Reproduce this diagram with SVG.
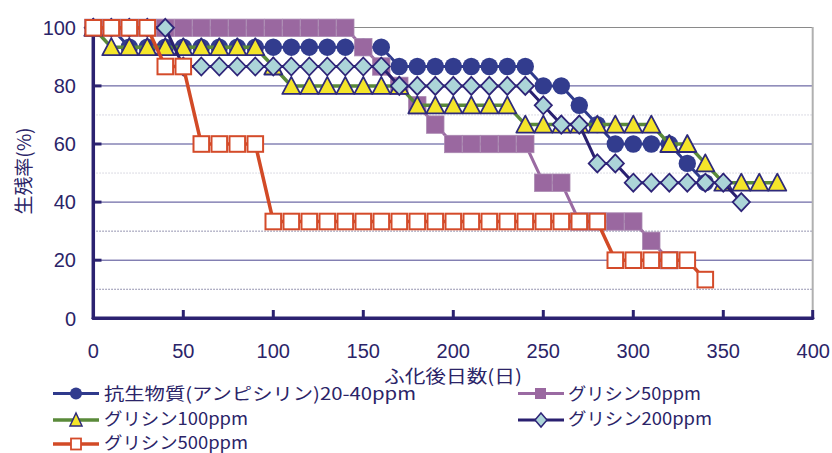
<svg xmlns="http://www.w3.org/2000/svg" xmlns:xlink="http://www.w3.org/1999/xlink" width="832" height="453" viewBox="0 0 832 453">
<style>
.txt{font-family:"Liberation Sans","Noto Sans CJK JP",sans-serif;fill:#2b2468}
.jp{font-family:"Noto Sans CJK JP","Liberation Sans",sans-serif;fill:#2b2468}
.tick{font-size:20px}
.grid{stroke:#4a4690;stroke-width:1;fill:none}
.dotd{stroke:#77759a;stroke-width:1;stroke-dasharray:1.5 1.5;fill:none}
.dotl{stroke:#cfcfda;stroke-width:1;stroke-dasharray:1.5 1.5;fill:none}
.axis{stroke:#2b2270;stroke-width:3.5;fill:none;stroke-linecap:round}
.s1{stroke:#2f3a8c;stroke-width:3;fill:none}
.s2{stroke:#9a6aa2;stroke-width:3;fill:none}
.s3{stroke:#5a8a3a;stroke-width:3.5;fill:none}
.s4{stroke:#2a2070;stroke-width:3;fill:none}
.s5{stroke:#d24a26;stroke-width:3.5;fill:none}
</style>
<defs>
<circle id="mc" r="8.7" fill="#323c8e"/>
<rect id="mp" x="-8.7" y="-8.7" width="17.4" height="17.4" fill="#9a68a0" stroke="#a987b0" stroke-width="0.8"/>
<polygon id="mt" points="0,-9 9,8 -9,8" fill="#f4e52a" stroke="#2e2a7a" stroke-width="1.8" stroke-linejoin="round"/>
<polygon id="md" points="0,-9 8.6,0 0,9 -8.6,0" fill="#acd5d8" stroke="#2e2478" stroke-width="1.8"/>
<rect id="mr" x="-7.8" y="-7.8" width="15.6" height="15.6" fill="#ffffff" stroke="#d44b2a" stroke-width="2"/>
</defs>
<rect x="0" y="0" width="832" height="453" fill="#ffffff"/>

<g id="gridlines">
<line class="dotd" x1="93.3" y1="289.25" x2="812.7" y2="289.25"/>
<line class="dotd" x1="93.3" y1="231.15" x2="812.7" y2="231.15"/>
<line class="dotl" x1="93.3" y1="173.05" x2="812.7" y2="173.05"/>
<line class="dotl" x1="93.3" y1="114.95" x2="812.7" y2="114.95"/>
<line class="grid" x1="93.3" y1="260.2" x2="812.7" y2="260.2"/>
<line class="grid" x1="93.3" y1="202.1" x2="812.7" y2="202.1"/>
<line class="grid" x1="93.3" y1="144" x2="812.7" y2="144"/>
<line class="grid" x1="93.3" y1="85.9" x2="812.7" y2="85.9"/>
<line x1="93.3" y1="27.5" x2="812.7" y2="27.5" stroke="#8a8a8a" stroke-width="1.2"/>
<line x1="812.7" y1="27" x2="812.7" y2="318.3" stroke="#b0b0b0" stroke-width="2"/>
</g>

<g id="axes">
<line class="axis" x1="93.3" y1="27.8" x2="93.3" y2="318.3"/>
<line class="axis" x1="93.3" y1="318.3" x2="812.7" y2="318.3"/>
<g stroke="#2b2270" stroke-width="3">
<line x1="93.3" y1="260.2" x2="101.5" y2="260.2"/>
<line x1="93.3" y1="202.1" x2="101.5" y2="202.1"/>
<line x1="93.3" y1="144" x2="101.5" y2="144"/>
<line x1="93.3" y1="85.9" x2="101.5" y2="85.9"/>
<line x1="183.3" y1="318.3" x2="183.3" y2="310"/>
<line x1="273.3" y1="318.3" x2="273.3" y2="310"/>
<line x1="363.3" y1="318.3" x2="363.3" y2="310"/>
<line x1="453.3" y1="318.3" x2="453.3" y2="310"/>
<line x1="543.3" y1="318.3" x2="543.3" y2="310"/>
<line x1="633.3" y1="318.3" x2="633.3" y2="310"/>
<line x1="723.3" y1="318.3" x2="723.3" y2="310"/>
<line x1="812.7" y1="318.3" x2="812.7" y2="310"/>
</g>
<g class="txt tick" text-anchor="end">
<text x="76" y="325.5">0</text>
<text x="76" y="267.4">20</text>
<text x="76" y="209.3">40</text>
<text x="76" y="151.2">60</text>
<text x="76" y="93.1">80</text>
<text x="76" y="35">100</text>
</g>
<g class="txt tick" text-anchor="middle">
<text x="93.3" y="358">0</text>
<text x="183.3" y="358">50</text>
<text x="273.3" y="358">100</text>
<text x="363.3" y="358">150</text>
<text x="453.3" y="358">200</text>
<text x="543.3" y="358">250</text>
<text x="633.3" y="358">300</text>
<text x="723.3" y="358">350</text>
<text x="813.3" y="358">400</text>
</g>
<text class="jp" font-size="19" text-anchor="middle" transform="translate(31,171) rotate(-90)" textLength="87" lengthAdjust="spacingAndGlyphs">生残率(%)</text>
<text class="jp" font-size="18" x="384" y="383" textLength="138" lengthAdjust="spacingAndGlyphs">ふ化後日数(日)</text>
</g>

<g id="series-antibiotic">
<polyline class="s1" points="93.3,27.8 111.3,27.8 129.3,47.2 381.3,47.2 399.3,66.5 525.3,66.5 543.3,85.9 561.3,85.9 579.3,105.3 597.3,124.6 615.3,144 669.3,144 687.3,163.4 705.3,182.7"/>
<use xlink:href="#mc" x="93.3" y="27.8"/><use xlink:href="#mc" x="111.3" y="27.8"/>
<use xlink:href="#mc" x="129.3" y="47.2"/><use xlink:href="#mc" x="147.3" y="47.2"/><use xlink:href="#mc" x="165.3" y="47.2"/><use xlink:href="#mc" x="183.3" y="47.2"/><use xlink:href="#mc" x="201.3" y="47.2"/><use xlink:href="#mc" x="219.3" y="47.2"/><use xlink:href="#mc" x="237.3" y="47.2"/><use xlink:href="#mc" x="255.3" y="47.2"/><use xlink:href="#mc" x="273.3" y="47.2"/><use xlink:href="#mc" x="291.3" y="47.2"/><use xlink:href="#mc" x="309.3" y="47.2"/><use xlink:href="#mc" x="327.3" y="47.2"/><use xlink:href="#mc" x="345.3" y="47.2"/><use xlink:href="#mc" x="363.3" y="47.2"/><use xlink:href="#mc" x="381.3" y="47.2"/>
<use xlink:href="#mc" x="399.3" y="66.5"/><use xlink:href="#mc" x="417.3" y="66.5"/><use xlink:href="#mc" x="435.3" y="66.5"/><use xlink:href="#mc" x="453.3" y="66.5"/><use xlink:href="#mc" x="471.3" y="66.5"/><use xlink:href="#mc" x="489.3" y="66.5"/><use xlink:href="#mc" x="507.3" y="66.5"/><use xlink:href="#mc" x="525.3" y="66.5"/>
<use xlink:href="#mc" x="543.3" y="85.9"/><use xlink:href="#mc" x="561.3" y="85.9"/>
<use xlink:href="#mc" x="579.3" y="105.3"/><use xlink:href="#mc" x="597.3" y="124.6"/>
<use xlink:href="#mc" x="615.3" y="144"/><use xlink:href="#mc" x="633.3" y="144"/><use xlink:href="#mc" x="651.3" y="144"/><use xlink:href="#mc" x="669.3" y="144"/>
<use xlink:href="#mc" x="687.3" y="163.4"/><use xlink:href="#mc" x="705.3" y="182.7"/>
</g>

<g id="series-glycine50">
<polyline class="s2" points="93.3,27.8 345.3,27.8 363.3,47.2 381.3,66.5 399.3,85.9 417.3,105.3 435.3,124.6 453.3,144 525.3,144 543.3,182.7 561.3,182.7 579.3,221.5 633.3,221.5 651.3,240.8 669.3,260.2"/>
<use xlink:href="#mp" x="93.3" y="27.8"/><use xlink:href="#mp" x="111.3" y="27.8"/><use xlink:href="#mp" x="129.3" y="27.8"/><use xlink:href="#mp" x="147.3" y="27.8"/><use xlink:href="#mp" x="165.3" y="27.8"/><use xlink:href="#mp" x="183.3" y="27.8"/><use xlink:href="#mp" x="201.3" y="27.8"/><use xlink:href="#mp" x="219.3" y="27.8"/><use xlink:href="#mp" x="237.3" y="27.8"/><use xlink:href="#mp" x="255.3" y="27.8"/><use xlink:href="#mp" x="273.3" y="27.8"/><use xlink:href="#mp" x="291.3" y="27.8"/><use xlink:href="#mp" x="309.3" y="27.8"/><use xlink:href="#mp" x="327.3" y="27.8"/><use xlink:href="#mp" x="345.3" y="27.8"/>
<use xlink:href="#mp" x="363.3" y="47.2"/><use xlink:href="#mp" x="381.3" y="66.5"/><use xlink:href="#mp" x="399.3" y="85.9"/><use xlink:href="#mp" x="417.3" y="105.3"/><use xlink:href="#mp" x="435.3" y="124.6"/>
<use xlink:href="#mp" x="453.3" y="144"/><use xlink:href="#mp" x="471.3" y="144"/><use xlink:href="#mp" x="489.3" y="144"/><use xlink:href="#mp" x="507.3" y="144"/><use xlink:href="#mp" x="525.3" y="144"/>
<use xlink:href="#mp" x="543.3" y="182.7"/><use xlink:href="#mp" x="561.3" y="182.7"/>
<use xlink:href="#mp" x="579.3" y="221.5"/><use xlink:href="#mp" x="597.3" y="221.5"/><use xlink:href="#mp" x="615.3" y="221.5"/><use xlink:href="#mp" x="633.3" y="221.5"/>
<use xlink:href="#mp" x="651.3" y="240.8"/><use xlink:href="#mp" x="669.3" y="260.2"/>
</g>

<g id="series-glycine100">
<polyline class="s3" points="93.3,27.8 111.3,47.2 255.3,47.2 273.3,66.5 291.3,85.9 399.3,85.9 417.3,105.3 507.3,105.3 525.3,124.6 651.3,124.6 669.3,144 687.3,144 705.3,163.4 723.3,182.7 777.3,182.7"/>
<use xlink:href="#mt" x="93.3" y="27.8"/>
<use xlink:href="#mt" x="111.3" y="47.2"/><use xlink:href="#mt" x="129.3" y="47.2"/><use xlink:href="#mt" x="147.3" y="47.2"/><use xlink:href="#mt" x="165.3" y="47.2"/><use xlink:href="#mt" x="183.3" y="47.2"/><use xlink:href="#mt" x="201.3" y="47.2"/><use xlink:href="#mt" x="219.3" y="47.2"/><use xlink:href="#mt" x="237.3" y="47.2"/><use xlink:href="#mt" x="255.3" y="47.2"/>
<use xlink:href="#mt" x="273.3" y="66.5"/>
<use xlink:href="#mt" x="291.3" y="85.9"/><use xlink:href="#mt" x="309.3" y="85.9"/><use xlink:href="#mt" x="327.3" y="85.9"/><use xlink:href="#mt" x="345.3" y="85.9"/><use xlink:href="#mt" x="363.3" y="85.9"/><use xlink:href="#mt" x="381.3" y="85.9"/><use xlink:href="#mt" x="399.3" y="85.9"/>
<use xlink:href="#mt" x="417.3" y="105.3"/><use xlink:href="#mt" x="435.3" y="105.3"/><use xlink:href="#mt" x="453.3" y="105.3"/><use xlink:href="#mt" x="471.3" y="105.3"/><use xlink:href="#mt" x="489.3" y="105.3"/><use xlink:href="#mt" x="507.3" y="105.3"/>
<use xlink:href="#mt" x="525.3" y="124.6"/><use xlink:href="#mt" x="543.3" y="124.6"/><use xlink:href="#mt" x="561.3" y="124.6"/><use xlink:href="#mt" x="579.3" y="124.6"/><use xlink:href="#mt" x="597.3" y="124.6"/><use xlink:href="#mt" x="615.3" y="124.6"/><use xlink:href="#mt" x="633.3" y="124.6"/><use xlink:href="#mt" x="651.3" y="124.6"/>
<use xlink:href="#mt" x="669.3" y="144"/><use xlink:href="#mt" x="687.3" y="144"/>
<use xlink:href="#mt" x="705.3" y="163.4"/>
<use xlink:href="#mt" x="723.3" y="182.7"/><use xlink:href="#mt" x="741.3" y="182.7"/><use xlink:href="#mt" x="759.3" y="182.7"/><use xlink:href="#mt" x="777.3" y="182.7"/>
</g>

<g id="series-glycine200">
<polyline class="s4" points="93.3,27.8 165.3,27.8 183.3,66.5 381.3,66.5 399.3,85.9 525.3,85.9 543.3,105.3 561.3,124.6 579.3,124.6 597.3,163.4 615.3,163.4 633.3,182.7 723.3,182.7 741.3,202.1"/>
<use xlink:href="#md" x="93.3" y="27.8"/><use xlink:href="#md" x="111.3" y="27.8"/><use xlink:href="#md" x="129.3" y="27.8"/><use xlink:href="#md" x="147.3" y="27.8"/><use xlink:href="#md" x="165.3" y="27.8"/>
<use xlink:href="#md" x="183.3" y="66.5"/><use xlink:href="#md" x="201.3" y="66.5"/><use xlink:href="#md" x="219.3" y="66.5"/><use xlink:href="#md" x="237.3" y="66.5"/><use xlink:href="#md" x="255.3" y="66.5"/><use xlink:href="#md" x="273.3" y="66.5"/><use xlink:href="#md" x="291.3" y="66.5"/><use xlink:href="#md" x="309.3" y="66.5"/><use xlink:href="#md" x="327.3" y="66.5"/><use xlink:href="#md" x="345.3" y="66.5"/><use xlink:href="#md" x="363.3" y="66.5"/><use xlink:href="#md" x="381.3" y="66.5"/>
<use xlink:href="#md" x="399.3" y="85.9"/><use xlink:href="#md" x="417.3" y="85.9"/><use xlink:href="#md" x="435.3" y="85.9"/><use xlink:href="#md" x="453.3" y="85.9"/><use xlink:href="#md" x="471.3" y="85.9"/><use xlink:href="#md" x="489.3" y="85.9"/><use xlink:href="#md" x="507.3" y="85.9"/><use xlink:href="#md" x="525.3" y="85.9"/>
<use xlink:href="#md" x="543.3" y="105.3"/>
<use xlink:href="#md" x="561.3" y="124.6"/><use xlink:href="#md" x="579.3" y="124.6"/>
<use xlink:href="#md" x="597.3" y="163.4"/><use xlink:href="#md" x="615.3" y="163.4"/>
<use xlink:href="#md" x="633.3" y="182.7"/><use xlink:href="#md" x="651.3" y="182.7"/><use xlink:href="#md" x="669.3" y="182.7"/><use xlink:href="#md" x="687.3" y="182.7"/><use xlink:href="#md" x="705.3" y="182.7"/><use xlink:href="#md" x="723.3" y="182.7"/>
<use xlink:href="#md" x="741.3" y="202.1"/>
</g>

<g id="series-glycine500">
<polyline class="s5" points="93.3,27.8 147.3,27.8 165.3,66.5 183.3,66.5 201.3,144 255.3,144 273.3,221.5 597.3,221.5 615.3,260.2 687.3,260.2 705.3,279.6"/>
<use xlink:href="#mr" x="93.3" y="27.8"/><use xlink:href="#mr" x="111.3" y="27.8"/><use xlink:href="#mr" x="129.3" y="27.8"/><use xlink:href="#mr" x="147.3" y="27.8"/>
<use xlink:href="#mr" x="165.3" y="66.5"/><use xlink:href="#mr" x="183.3" y="66.5"/>
<use xlink:href="#mr" x="201.3" y="144"/><use xlink:href="#mr" x="219.3" y="144"/><use xlink:href="#mr" x="237.3" y="144"/><use xlink:href="#mr" x="255.3" y="144"/>
<use xlink:href="#mr" x="273.3" y="221.5"/><use xlink:href="#mr" x="291.3" y="221.5"/><use xlink:href="#mr" x="309.3" y="221.5"/><use xlink:href="#mr" x="327.3" y="221.5"/><use xlink:href="#mr" x="345.3" y="221.5"/><use xlink:href="#mr" x="363.3" y="221.5"/><use xlink:href="#mr" x="381.3" y="221.5"/><use xlink:href="#mr" x="399.3" y="221.5"/><use xlink:href="#mr" x="417.3" y="221.5"/><use xlink:href="#mr" x="435.3" y="221.5"/><use xlink:href="#mr" x="453.3" y="221.5"/><use xlink:href="#mr" x="471.3" y="221.5"/><use xlink:href="#mr" x="489.3" y="221.5"/><use xlink:href="#mr" x="507.3" y="221.5"/><use xlink:href="#mr" x="525.3" y="221.5"/><use xlink:href="#mr" x="543.3" y="221.5"/><use xlink:href="#mr" x="561.3" y="221.5"/><use xlink:href="#mr" x="579.3" y="221.5"/><use xlink:href="#mr" x="597.3" y="221.5"/>
<use xlink:href="#mr" x="615.3" y="260.2"/><use xlink:href="#mr" x="633.3" y="260.2"/><use xlink:href="#mr" x="651.3" y="260.2"/><use xlink:href="#mr" x="669.3" y="260.2"/><use xlink:href="#mr" x="687.3" y="260.2"/>
<use xlink:href="#mr" x="705.3" y="279.6"/>
</g>

<g id="legend">
<line class="s1" x1="53" y1="393.5" x2="99" y2="393.5"/>
<circle cx="76" cy="393.5" r="6" fill="#323c8e"/>
<text class="jp" font-size="17.5" x="104" y="400" textLength="312" lengthAdjust="spacingAndGlyphs">抗生物質(アンピシリン)20-40ppm</text>
<line class="s2" x1="518" y1="393.5" x2="564" y2="393.5"/>
<rect x="535" y="388" width="11" height="11" fill="#9a68a0"/>
<text class="jp" font-size="17.5" x="568" y="400" textLength="133" lengthAdjust="spacingAndGlyphs">グリシン50ppm</text>
<line class="s3" x1="53" y1="420" x2="99" y2="420"/>
<polygon points="76,413 82,426 70,426" fill="#f4e52a" stroke="#2e2a7a" stroke-width="1.5"/>
<text class="jp" font-size="17.5" x="104" y="424.5" textLength="144" lengthAdjust="spacingAndGlyphs">グリシン100ppm</text>
<line class="s4" x1="518" y1="420" x2="564" y2="420"/>
<polygon points="541,413 547,420 541,427 535,420" fill="#acd5d8" stroke="#2e2478" stroke-width="1.5"/>
<text class="jp" font-size="17.5" x="568" y="424.5" textLength="144" lengthAdjust="spacingAndGlyphs">グリシン200ppm</text>
<line class="s5" x1="53" y1="444" x2="99" y2="444"/>
<rect x="71" y="438.5" width="10" height="11" fill="#ffffff" stroke="#d44b2a" stroke-width="1.8"/>
<text class="jp" font-size="17.5" x="104" y="448.5" textLength="144" lengthAdjust="spacingAndGlyphs">グリシン500ppm</text>
</g>
</svg>
